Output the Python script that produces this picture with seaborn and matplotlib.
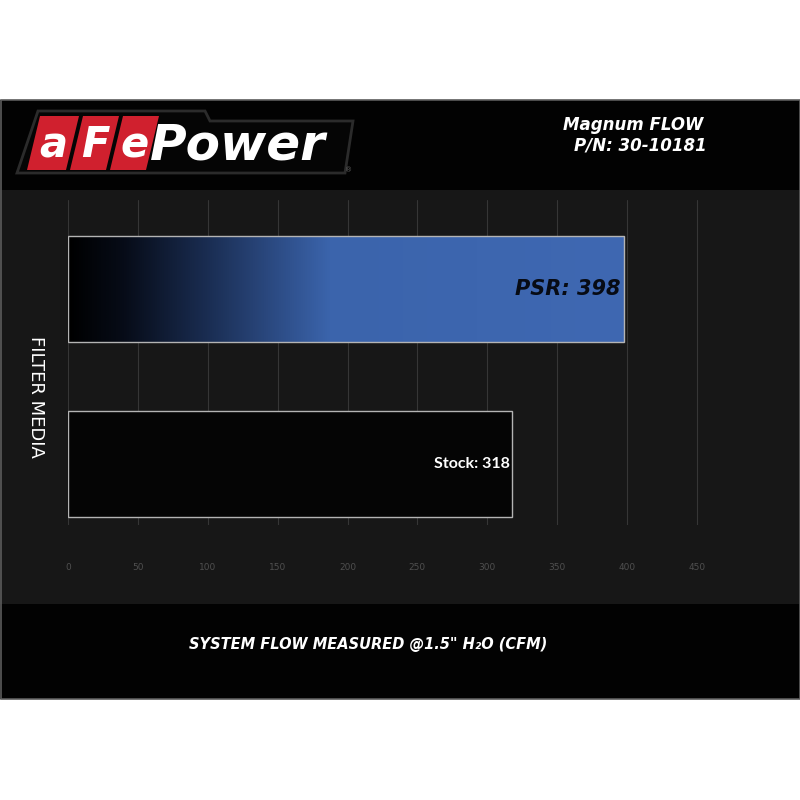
import matplotlib
matplotlib.use("Agg")
import matplotlib.pyplot as plt
from matplotlib.patches import Polygon, Rectangle
from matplotlib.colors import LinearSegmentedColormap
import numpy as np
import pandas as pd
import seaborn as sns

sns.set_theme(style="dark")
plt.rcParams['font.family'] = ['DejaVu Sans']

# data
media = ["PSR", "Stock"]
flow_cfm = [398, 318]
bar_labels = ["PSR: 398", "Stock: 318"]
x_ticks = [0, 50, 100, 150, 200, 250, 300, 350, 400, 450]

df = pd.DataFrame({"Filter Media": media, "Flow (CFM)": flow_cfm})

W = H = 800.0


def fx(px):
    return px / W


def fy(py):
    return 1 - py / H


def fpoly(pts, **kw):
    return Polygon([(fx(a), fy(b)) for a, b in pts], closed=True,
                   transform=fig.transFigure, **kw)


fig = plt.figure(figsize=(8, 8), dpi=100, facecolor="white")

# panel backgrounds (behind the axes)
fig.patches.append(Rectangle((fx(0), fy(699)), 1, (699 - 100) / H, transform=fig.transFigure,
                             facecolor="#020202", edgecolor="none", zorder=-10))
fig.patches.append(Rectangle((fx(0), fy(604)), 1, (604 - 190) / H, transform=fig.transFigure,
                             facecolor="#171717", edgecolor="none", zorder=-9))
fig.patches.append(Rectangle((fx(0.5), fy(699)), (799 / W), (599 / H), transform=fig.transFigure,
                             facecolor="none", edgecolor="#5c5c5c", lw=1.2, zorder=10))

# logo
fig.patches.append(fpoly([(17, 173), (38, 111), (205, 111), (210, 121), (353, 121), (345, 173)],
                         facecolor="#050505", edgecolor="#2b2b2b", lw=2, zorder=2))
red = "#d0202e"
boxes = [(40, 79), (83, 119), (123, 159)]
for (x0, x1), ch in zip(boxes, ["a", "F", "e"]):
    fig.patches.append(fpoly([(x0, 116), (x1, 116), (x1 - 13, 170), (x0 - 13, 170)],
                             facecolor=red, edgecolor="none", zorder=3))
    fig.text(fx((x0 + x1) / 2 - 6), fy(145), ch, color="white", fontsize=30,
             fontweight="bold", style="italic", ha="center", va="center", zorder=4)
fig.text(fx(150), fy(145), "Power", color="white", fontsize=36, fontweight="bold",
         style="italic", ha="left", va="center", zorder=4)
fig.text(fx(349), fy(170), "®", color="#666666", fontsize=5, ha="center", va="center")

# header
fig.text(fx(633), fy(125), "Magnum FLOW", color="white", fontsize=12, fontweight="bold",
         style="italic", ha="center", va="center")
fig.text(fx(640), fy(146), "P/N: 30-10181", color="white", fontsize=12, fontweight="bold",
         style="italic", ha="center", va="center")

# main chart
ax = fig.add_axes([fx(68), fy(525), (740 - 68) / W, (525 - 200) / H])
ax.set_facecolor("none")
sns.barplot(data=df, x="Flow (CFM)", y="Filter Media", orient="h", ax=ax, width=0.606,
            color="#050505", edgecolor="#b4b4b4", linewidth=1.0, zorder=3)

ax.set_xticks(x_ticks)
ax.set_yticks([])
ax.grid(axis="x", color="#363636", linewidth=0.8)
ax.grid(axis="y", visible=False)
for s in ax.spines.values():
    s.set_visible(False)
ax.tick_params(axis="x", length=0, pad=27, labelsize=6.5, labelcolor="#4f4f4f")
ax.set_xlabel("")
ax.set_ylabel("")

# gradient fill on PSR bar
psr = ax.patches[0]
cmap = LinearSegmentedColormap.from_list("psr", [(0, "#000000"), (0.1, "#070c18"),
                                                 (0.25, "#1a2d52"), (0.47, "#3b64ac"),
                                                 (1, "#3f68b2")])
bx, by = psr.get_x(), psr.get_y()
bw, bh = psr.get_width(), psr.get_height()
im = ax.imshow(np.linspace(0, 1, 512).reshape(1, -1), cmap=cmap, aspect="auto",
               extent=[bx, bx + bw, by + bh, by], zorder=2.5, interpolation="bilinear")
im.set_clip_path(psr)
psr.set_facecolor("none")
ax.set_xlim(0, 672 / 1.3975)
ax.set_ylim(1.349, -0.509)

ax.text(flow_cfm[0] - 3, 0, bar_labels[0], ha="right", va="center", fontsize=15,
        fontweight="bold", style="italic", color="#070b14", zorder=5)
ax.text(flow_cfm[1] - 2, 1, bar_labels[1], ha="right", va="center", fontsize=11.5,
        fontweight="bold", color="white", family="Lato", zorder=5)

# axis titles
fig.text(fx(36), fy(397), "FILTER MEDIA", color="white", fontsize=13, rotation=-90,
         ha="center", va="center")
fig.text(fx(368), fy(645), "SYSTEM FLOW MEASURED @1.5\" H₂O (CFM)", color="white",
         fontsize=10.5, fontweight="bold", style="italic", ha="center", va="center")

fig.savefig("out.png", dpi=100, facecolor="white")
